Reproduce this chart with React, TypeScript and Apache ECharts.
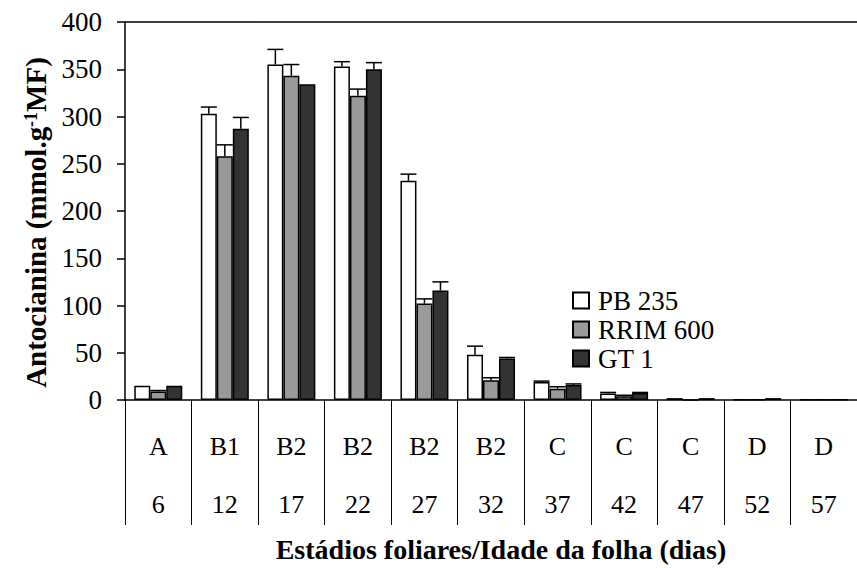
import React, { useEffect, useRef } from "react";
import * as echarts from "echarts";

const stages = ["A", "B1", "B2", "B2", "B2", "B2", "C", "C", "C", "D", "D"];
const days = ["6", "12", "17", "22", "27", "32", "37", "42", "47", "52", "57"];
const seriesNames = ["PB 235", "RRIM 600", "GT 1"];
const pb235 = [15, 303, 355, 353, 232, 48, 19, 7, 2, 0.3, 0.3];
const rrim600 = [9, 258, 343, 322, 102, 21, 12, 4, 0, 0.3, 0.3];
const gt1 = [15, 287, 334, 350, 116, 44, 16, 7.5, 2, 2, 0.3];
const pb235Err = [0, 7, 16, 5, 7, 9, 1, 1, 0, 0, 0];
const rrim600Err = [1, 12, 12, 7, 5, 2.5, 2, 1, 0, 0, 0];
const gt1Err = [0, 12, 0, 7, 9, 1, 1, 0.5, 0, 0, 0];
const yTicks = [0, 50, 100, 150, 200, 250, 300, 350, 400];

const colors = ["#ffffff", "#999999", "#333333"];
const FONT = "'Liberation Serif', 'Times New Roman', serif";
const BAR_W = 16;

export default function App() {
  const ref = useRef<HTMLDivElement>(null);
  useEffect(() => {
    if (!ref.current) return;
    const chart = echarts.init(ref.current, null, { renderer: "svg" });
    const values = [pb235, rrim600, gt1];
    const errs = [pb235Err, rrim600Err, gt1Err];

    const barSeries = values.map((vals, si) => ({
      name: seriesNames[si],
      type: "bar",
      data: vals,
      barWidth: BAR_W,
      barGap: "0%",
      itemStyle: { color: colors[si], borderColor: "#000", borderWidth: 1.5 },
      z: 2,
    }));

    const errSeries = errs.map((err, si) => ({
      name: "err" + si,
      type: "custom",
      data: err.map((e, i) => [i, values[si][i], e]),
      encode: { x: 0, y: 1 },
      z: 3,
      renderItem: (params: any, api: any) => {
        const e = api.value(2);
        if (!e) return null;
        const i = api.value(0);
        const v = api.value(1);
        const p0 = api.coord([i, v]);
        const p1 = api.coord([i, v + e]);
        const x = p0[0] + (si - 1) * BAR_W;
        const half = BAR_W / 2;
        const style = { stroke: "#000", lineWidth: 1.5, fill: "none" };
        return {
          type: "group",
          children: [
            { type: "line", shape: { x1: x, y1: p0[1], x2: x, y2: p1[1] }, style },
            { type: "line", shape: { x1: x - half, y1: p1[1], x2: x + half, y2: p1[1] }, style },
          ],
        };
      },
    }));

    const option: any = {
      animation: false,
      backgroundColor: "#fff",
      textStyle: { fontFamily: FONT, color: "#000" },
      grid: { left: 125, top: 22, bottom: 166, right: -9.5, containLabel: false },
      legend: {
        data: seriesNames,
        orient: "vertical",
        left: 567,
        top: 282,
        icon: "rect",
        itemWidth: 16,
        itemHeight: 16,
        itemGap: 2,
        textStyle: {
          fontFamily: FONT,
          fontSize: 27,
          color: "#000",
          lineHeight: 27,
          padding: [0, 0, 0, 4],
        },
      },
      xAxis: [
        {
          type: "category",
          data: days,
          position: "bottom",
          axisLine: { show: true, lineStyle: { color: "#000", width: 1.5 } },
          axisTick: {
            show: true,
            length: 125,
            inside: false,
            alignWithLabel: false,
            lineStyle: { color: "#000", width: 1 },
          },
          axisLabel: {
            interval: 0,
            margin: 17,
            formatter: (_v: string, i: number) => `{s|${stages[i]}}\n{d|${days[i]}}`,
            rich: {
              s: { fontFamily: FONT, fontSize: 26, color: "#000", lineHeight: 58 },
              d: { fontFamily: FONT, fontSize: 26, color: "#000", lineHeight: 58 },
            },
          },
          name: "Estádios foliares/Idade da folha (dias)",
          nameLocation: "middle",
          nameGap: 135,
          nameTextStyle: {
            fontFamily: FONT,
            fontSize: 28,
            fontWeight: "bold",
            color: "#000",
            padding: [0, 0, 0, 20],
          },
        },
        {
          type: "category",
          data: days,
          position: "top",
          axisLine: { show: true, lineStyle: { color: "#000", width: 1.5 } },
          axisTick: { show: false },
          axisLabel: { show: false },
        },
      ],
      yAxis: {
        type: "value",
        min: yTicks[0],
        max: yTicks[yTicks.length - 1],
        interval: 50,
        axisLine: { show: true, lineStyle: { color: "#000", width: 1.5 } },
        axisTick: { show: true, length: 8, lineStyle: { color: "#000", width: 1.5 } },
        splitLine: { show: false },
        axisLabel: {
          margin: 23,
          fontFamily: FONT,
          fontSize: 27,
          color: "#000",
        },
        name: "Antocianina (mmol.g{sup|-1}MF)",
        nameLocation: "middle",
        nameGap: 73,
        nameRotate: 90,
        nameTextStyle: {
          fontFamily: FONT,
          fontSize: 29,
          fontWeight: "bold",
          color: "#000",
          padding: [0, 23, 0, 0],
          rich: {
            sup: {
              fontFamily: FONT,
              fontSize: 18,
              fontWeight: "bold",
              color: "#000",
              verticalAlign: "top",
            },
          },
        },
      },
      series: [...barSeries, ...errSeries],
    };
    chart.setOption(option);
    return () => chart.dispose();
  }, []);

  return (
    <div
      ref={ref}
      style={{ position: "fixed", left: 0, top: 0, width: 857, height: 568, background: "#fff" }}
    />
  );
}
